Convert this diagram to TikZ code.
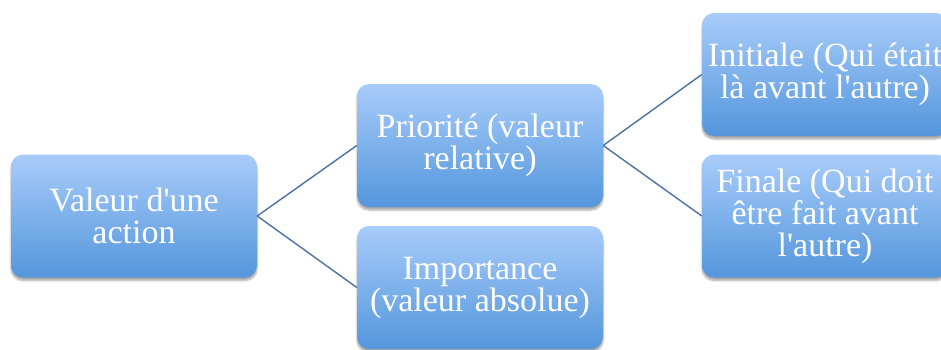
\documentclass[tikz,border=0pt]{standalone}
\usepackage{fontspec}
\setmainfont{Liberation Serif}
\usepackage{tikz}
\usetikzlibrary{positioning,shadows.blur}
\usepackage{xcolor}

\definecolor{hell}{RGB}{168,204,250}
\definecolor{dunkel}{RGB}{84,150,220}
\definecolor{linie}{RGB}{74,114,165}

\tikzset{
  kasten/.style={rectangle, rounded corners=12pt, minimum width=246pt, minimum height=123pt,
    inner sep=0pt, top color=hell, bottom color=dunkel, draw=none, text=white, align=center,
    font=\fontsize{34}{32}\selectfont,
    blur shadow={shadow xshift=0pt, shadow yshift=-3pt, shadow blur steps=6, shadow opacity=35}},
  verbindung/.style={draw=linie, line width=1.4pt}
}

\begin{document}
\begin{tikzpicture}[x=1pt,y=-1pt]
\useasboundingbox (0,0) rectangle (941,349);

% Kaesten
\node[kasten] (wert) at (134,216) {Valeur d\textquotesingle une\\action};
\node[kasten] (prio) at (480,145.5) {Priorité (valeur\\relative)};
\node[kasten] (imp) at (480,287.5) {Importance\\(valeur absolue)};
\node[kasten] (init) at (825,74.5) {Initiale (Qui était\\là avant l\textquotesingle autre)};
\node[kasten] (fin) at (825,216) {Finale (Qui doit\\être fait avant\\l\textquotesingle autre)};

% Verbindungen
\draw[verbindung] (wert.east) -- (prio.west);
\draw[verbindung] (wert.east) -- (imp.west);
\draw[verbindung] (prio.east) -- (init.west);
\draw[verbindung] (prio.east) -- (fin.west);
\end{tikzpicture}
\end{document}
